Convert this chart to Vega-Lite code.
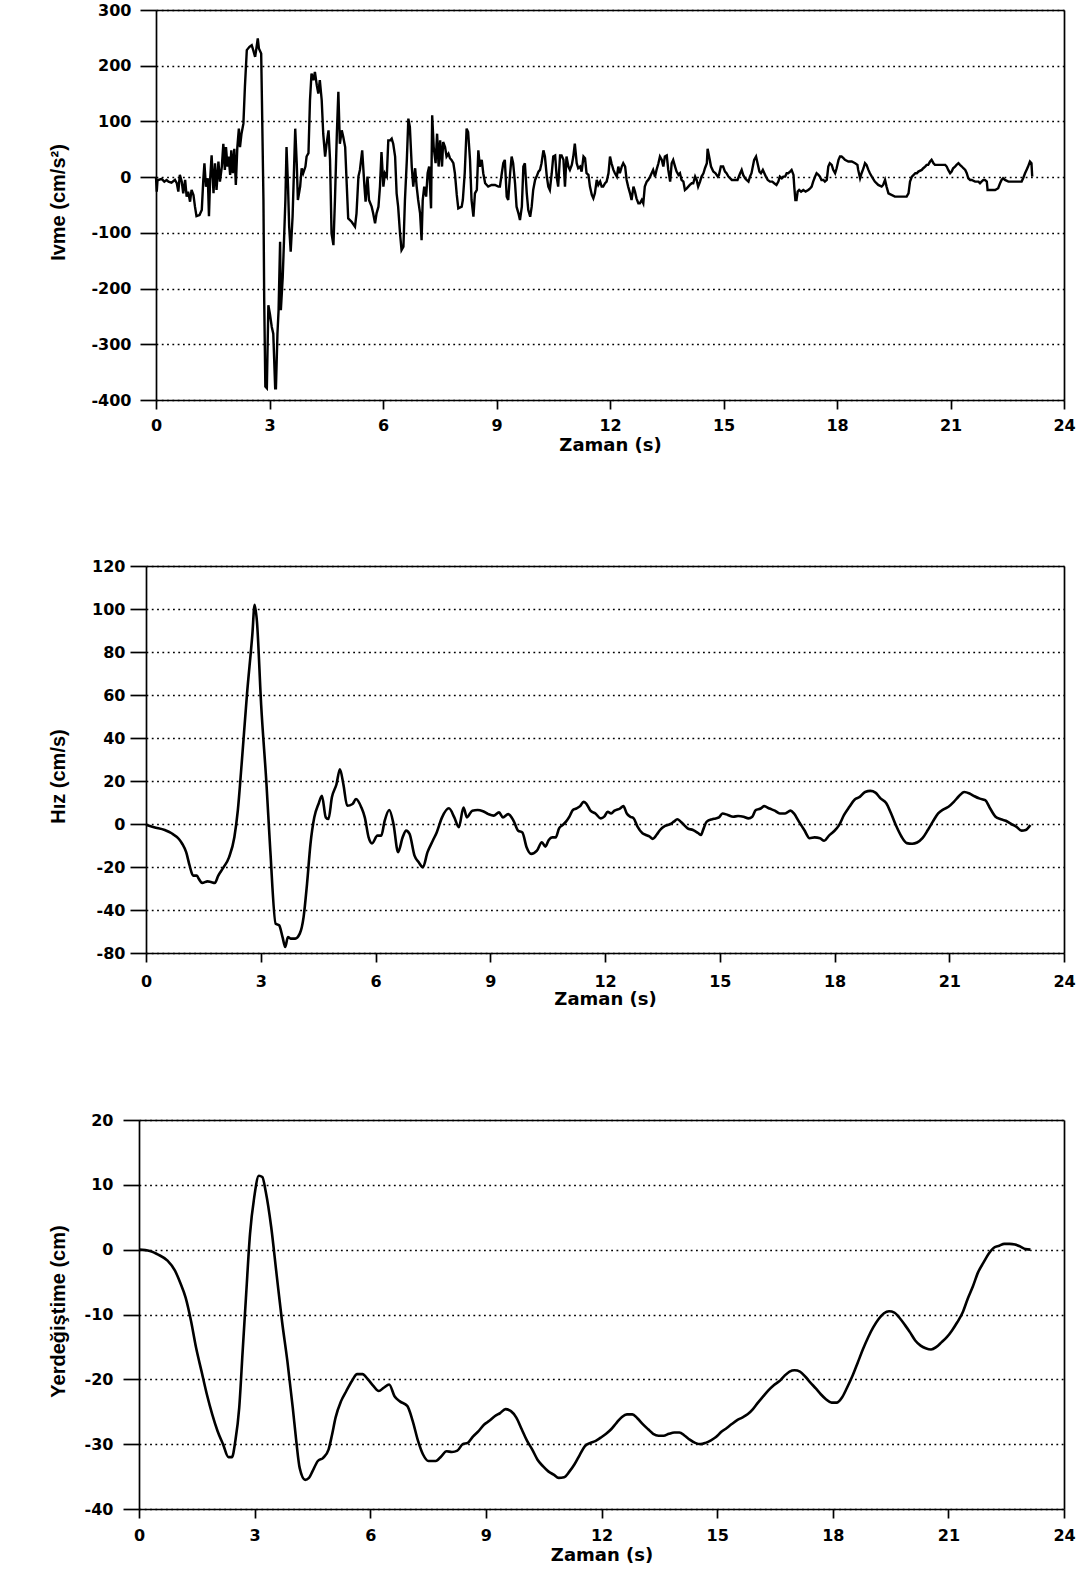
{
  "$schema": "https://vega.github.io/schema/vega-lite/v6.json",
  "background": "white",
  "padding": {"left": 48, "top": 2, "right": 5, "bottom": 5},
  "spacing": 104,
  "config": {
    "view": {"stroke": null},
    "axis": {"domainColor": "#000", "domainWidth": 1.7, "tickColor": "#000", "tickWidth": 1.7, "labelColor": "#000", "titleColor": "#000", "labelFont": "DejaVu Sans", "labelFontWeight": "bold", "labelFontSize": 16, "grid": false, "labelFlush": false, "labelOverlap": false}
  },
  "datasets": {
    "ivme": [
      {"t":0,"a":0},{"t":0.02,"a":-26},{"t":0.04,"a":-5},{"t":0.06,"a":-5},{"t":0.15,"a":-3},{"t":0.22,"a":-8},{"t":0.28,"a":-5},{"t":0.33,"a":-8},{"t":0.41,"a":-10},{"t":0.5,"a":-5},{"t":0.55,"a":-11},{"t":0.59,"a":-26},{"t":0.63,"a":4},{"t":0.68,"a":-8},{"t":0.72,"a":-29},{"t":0.77,"a":-5},{"t":0.81,"a":-35},{"t":0.85,"a":-26},{"t":0.9,"a":-44},{"t":0.94,"a":-23},{"t":0.99,"a":-32},{"t":1.03,"a":-53},{"t":1.07,"a":-70},{"t":1.15,"a":-68},{"t":1.21,"a":-59},{"t":1.25,"a":-5},{"t":1.28,"a":25},{"t":1.32,"a":-17},{"t":1.37,"a":-2},{"t":1.4,"a":-70},{"t":1.43,"a":-5},{"t":1.47,"a":39},{"t":1.52,"a":-29},{"t":1.56,"a":25},{"t":1.6,"a":-23},{"t":1.65,"a":28},{"t":1.69,"a":-8},{"t":1.74,"a":19},{"t":1.78,"a":60},{"t":1.82,"a":13},{"t":1.85,"a":54},{"t":1.89,"a":19},{"t":1.92,"a":37},{"t":1.96,"a":4},{"t":1.99,"a":48},{"t":2.03,"a":7},{"t":2.07,"a":51},{"t":2.11,"a":-14},{"t":2.15,"a":54},{"t":2.19,"a":87},{"t":2.22,"a":54},{"t":2.26,"a":78},{"t":2.31,"a":96},{"t":2.35,"a":162},{"t":2.4,"a":228},{"t":2.47,"a":234},{"t":2.53,"a":237},{"t":2.57,"a":228},{"t":2.62,"a":216},{"t":2.66,"a":234},{"t":2.69,"a":249},{"t":2.72,"a":231},{"t":2.78,"a":222},{"t":2.8,"a":138},{"t":2.84,"a":-41},{"t":2.86,"a":-221},{"t":2.89,"a":-376},{"t":2.93,"a":-379},{"t":2.97,"a":-230},{"t":3.01,"a":-245},{"t":3.06,"a":-269},{"t":3.1,"a":-281},{"t":3.15,"a":-379},{"t":3.17,"a":-379},{"t":3.21,"a":-281},{"t":3.24,"a":-239},{"t":3.28,"a":-116},{"t":3.3,"a":-239},{"t":3.35,"a":-179},{"t":3.39,"a":-101},{"t":3.42,"a":-41},{"t":3.45,"a":54},{"t":3.49,"a":-17},{"t":3.52,"a":-89},{"t":3.56,"a":-134},{"t":3.61,"a":-71},{"t":3.65,"a":19},{"t":3.68,"a":87},{"t":3.72,"a":25},{"t":3.75,"a":-41},{"t":3.81,"a":-17},{"t":3.85,"a":16},{"t":3.89,"a":7},{"t":3.95,"a":19},{"t":3.98,"a":37},{"t":4.03,"a":43},{"t":4.07,"a":138},{"t":4.11,"a":186},{"t":4.16,"a":174},{"t":4.2,"a":189},{"t":4.25,"a":165},{"t":4.29,"a":150},{"t":4.33,"a":174},{"t":4.38,"a":138},{"t":4.42,"a":78},
      {"t":4.47,"a":37},{"t":4.51,"a":60},{"t":4.56,"a":84},{"t":4.6,"a":31},{"t":4.64,"a":-101},{"t":4.69,"a":-122},{"t":4.73,"a":-41},{"t":4.78,"a":78},{"t":4.82,"a":153},{"t":4.86,"a":60},{"t":4.91,"a":84},{"t":4.95,"a":72},{"t":5.0,"a":54},{"t":5.04,"a":-11},{"t":5.08,"a":-74},{"t":5.17,"a":-80},{"t":5.26,"a":-89},{"t":5.3,"a":-65},{"t":5.35,"a":1},{"t":5.39,"a":13},{"t":5.45,"a":48},{"t":5.51,"a":-17},{"t":5.54,"a":-44},{"t":5.59,"a":1},{"t":5.63,"a":-41},{"t":5.7,"a":-53},{"t":5.74,"a":-65},{"t":5.79,"a":-83},{"t":5.83,"a":-65},{"t":5.88,"a":-53},{"t":5.92,"a":-17},{"t":5.96,"a":45},{"t":6.01,"a":-17},{"t":6.05,"a":7},{"t":6.1,"a":1},{"t":6.14,"a":66},{"t":6.19,"a":66},{"t":6.23,"a":69},{"t":6.27,"a":60},{"t":6.32,"a":37},{"t":6.36,"a":-29},{"t":6.4,"a":-53},{"t":6.45,"a":-101},{"t":6.49,"a":-131},{"t":6.54,"a":-125},{"t":6.58,"a":-41},{"t":6.63,"a":31},{"t":6.67,"a":105},{"t":6.71,"a":90},{"t":6.76,"a":19},{"t":6.8,"a":-17},{"t":6.85,"a":16},{"t":6.89,"a":-17},{"t":6.93,"a":-41},{"t":6.98,"a":-65},{"t":7.02,"a":-113},{"t":7.05,"a":-41},{"t":7.09,"a":-17},{"t":7.14,"a":-35},{"t":7.18,"a":7},{"t":7.22,"a":19},{"t":7.27,"a":-56},{"t":7.3,"a":111},{"t":7.34,"a":54},{"t":7.39,"a":25},{"t":7.43,"a":78},{"t":7.47,"a":19},{"t":7.51,"a":66},{"t":7.56,"a":19},{"t":7.59,"a":63},{"t":7.64,"a":54},{"t":7.68,"a":37},{"t":7.73,"a":42},{"t":7.77,"a":34},{"t":7.81,"a":31},{"t":7.86,"a":25},{"t":7.9,"a":7},{"t":7.95,"a":-32},{"t":7.99,"a":-56},{"t":8.08,"a":-53},{"t":8.11,"a":-41},{"t":8.16,"a":7},{"t":8.21,"a":87},{"t":8.25,"a":81},{"t":8.3,"a":31},{"t":8.34,"a":-41},{"t":8.39,"a":-71},{"t":8.43,"a":-29},{"t":8.48,"a":-23},{"t":8.52,"a":48},{"t":8.56,"a":19},{"t":8.61,"a":31},{"t":8.65,"a":7},{"t":8.7,"a":-11},{"t":8.78,"a":-17},{"t":8.87,"a":-14},{"t":8.96,"a":-14},{"t":9.05,"a":-17},
      {"t":9.09,"a":-17},{"t":9.14,"a":7},{"t":9.18,"a":25},{"t":9.22,"a":31},{"t":9.27,"a":-35},{"t":9.31,"a":-41},{"t":9.36,"a":7},{"t":9.4,"a":37},{"t":9.44,"a":25},{"t":9.49,"a":-11},{"t":9.53,"a":-53},{"t":9.58,"a":-65},{"t":9.62,"a":-77},{"t":9.67,"a":-53},{"t":9.71,"a":19},{"t":9.75,"a":25},{"t":9.8,"a":-29},{"t":9.84,"a":-59},{"t":9.89,"a":-71},{"t":9.93,"a":-53},{"t":9.97,"a":-23},{"t":10.02,"a":-5},{"t":10.06,"a":1},{"t":10.11,"a":10},{"t":10.15,"a":13},{"t":10.19,"a":25},{"t":10.24,"a":48},{"t":10.28,"a":37},{"t":10.33,"a":1},{"t":10.37,"a":-17},{"t":10.41,"a":-23},{"t":10.46,"a":7},{"t":10.5,"a":37},{"t":10.55,"a":39},{"t":10.59,"a":1},{"t":10.63,"a":-17},{"t":10.68,"a":39},{"t":10.72,"a":39},{"t":10.77,"a":31},{"t":10.81,"a":-17},{"t":10.85,"a":37},{"t":10.9,"a":19},{"t":10.94,"a":13},{"t":10.99,"a":22},{"t":11.03,"a":37},{"t":11.07,"a":60},{"t":11.12,"a":25},{"t":11.16,"a":16},{"t":11.21,"a":19},{"t":11.25,"a":10},{"t":11.3,"a":37},{"t":11.34,"a":34},{"t":11.38,"a":7},{"t":11.43,"a":4},{"t":11.47,"a":-17},{"t":11.52,"a":-32},{"t":11.56,"a":-38},{"t":11.6,"a":-29},{"t":11.65,"a":-5},{"t":11.69,"a":-14},{"t":11.74,"a":-8},{"t":11.78,"a":-17},{"t":11.82,"a":-17},{"t":11.87,"a":-11},{"t":11.91,"a":-8},{"t":11.96,"a":7},{"t":12.0,"a":37},{"t":12.04,"a":25},{"t":12.09,"a":13},{"t":12.13,"a":7},{"t":12.18,"a":1},{"t":12.22,"a":19},{"t":12.26,"a":7},{"t":12.31,"a":19},{"t":12.35,"a":25},{"t":12.4,"a":19},{"t":12.44,"a":-5},{"t":12.48,"a":-17},{"t":12.53,"a":-29},{"t":12.57,"a":-41},{"t":12.62,"a":-17},{"t":12.66,"a":-26},{"t":12.7,"a":-38},{"t":12.75,"a":-47},{"t":12.79,"a":-47},{"t":12.84,"a":-41},{"t":12.88,"a":-47},{"t":12.92,"a":-17},{"t":12.97,"a":-8},{"t":13.01,"a":-5},{"t":13.06,"a":1},{"t":13.1,"a":7},{"t":13.14,"a":13},{"t":13.19,"a":1},{"t":13.23,"a":13},{"t":13.28,"a":25},{"t":13.32,"a":37},{"t":13.37,"a":31},{"t":13.41,"a":19},{"t":13.45,"a":37},{"t":13.5,"a":39},{"t":13.54,"a":13},{"t":13.59,"a":-8},{"t":13.63,"a":25},{"t":13.67,"a":31},{"t":13.72,"a":19},{"t":13.76,"a":10},{"t":13.81,"a":4},{"t":13.85,"a":7},{"t":13.89,"a":-5},{"t":13.94,"a":-8},{"t":13.98,"a":-23},{"t":14.03,"a":-20},{"t":14.07,"a":-17},{"t":14.11,"a":-14},{"t":14.16,"a":-11},{"t":14.2,"a":-11},
      {"t":14.25,"a":1},{"t":14.29,"a":-5},{"t":14.33,"a":-17},{"t":14.38,"a":-8},{"t":14.42,"a":1},{"t":14.47,"a":7},{"t":14.51,"a":16},{"t":14.56,"a":25},{"t":14.58,"a":51},{"t":14.62,"a":37},{"t":14.67,"a":19},{"t":14.73,"a":10},{"t":14.79,"a":7},{"t":14.85,"a":1},{"t":14.88,"a":4},{"t":14.93,"a":19},{"t":14.99,"a":19},{"t":15.04,"a":10},{"t":15.08,"a":7},{"t":15.13,"a":1},{"t":15.22,"a":-5},{"t":15.3,"a":-5},{"t":15.37,"a":-5},{"t":15.44,"a":7},{"t":15.48,"a":13},{"t":15.52,"a":4},{"t":15.57,"a":-2},{"t":15.61,"a":-5},{"t":15.66,"a":-8},{"t":15.7,"a":1},{"t":15.74,"a":7},{"t":15.81,"a":31},{"t":15.86,"a":37},{"t":15.9,"a":25},{"t":15.95,"a":10},{"t":15.99,"a":7},{"t":16.04,"a":13},{"t":16.08,"a":7},{"t":16.12,"a":1},{"t":16.17,"a":-5},{"t":16.23,"a":-8},{"t":16.29,"a":-8},{"t":16.34,"a":-11},{"t":16.4,"a":-14},{"t":16.45,"a":-8},{"t":16.49,"a":1},{"t":16.54,"a":-2},{"t":16.58,"a":1},{"t":16.63,"a":1},{"t":16.67,"a":7},{"t":16.71,"a":7},{"t":16.76,"a":10},{"t":16.8,"a":13},{"t":16.85,"a":4},{"t":16.87,"a":-17},{"t":16.9,"a":-41},{"t":16.93,"a":-41},{"t":16.96,"a":-26},{"t":17.0,"a":-23},{"t":17.05,"a":-26},{"t":17.11,"a":-23},{"t":17.17,"a":-26},{"t":17.24,"a":-23},{"t":17.29,"a":-20},{"t":17.33,"a":-17},{"t":17.37,"a":-8},{"t":17.42,"a":1},{"t":17.46,"a":7},{"t":17.51,"a":4},{"t":17.55,"a":1},{"t":17.59,"a":-5},{"t":17.64,"a":-5},{"t":17.68,"a":-8},{"t":17.73,"a":-5},{"t":17.77,"a":19},{"t":17.81,"a":25},{"t":17.86,"a":22},{"t":17.9,"a":13},{"t":17.95,"a":7},{"t":17.99,"a":16},{"t":18.04,"a":31},{"t":18.08,"a":37},{"t":18.12,"a":37},{"t":18.17,"a":34},{"t":18.21,"a":31},{"t":18.3,"a":28},{"t":18.39,"a":28},{"t":18.48,"a":25},{"t":18.54,"a":22},{"t":18.56,"a":13},{"t":18.61,"a":-2},{"t":18.65,"a":7},{"t":18.7,"a":16},{"t":18.74,"a":25},{"t":18.78,"a":22},{"t":18.83,"a":13},{"t":18.87,"a":7},{"t":18.92,"a":1},{"t":19.0,"a":-8},{"t":19.09,"a":-14},{"t":19.18,"a":-17},{"t":19.22,"a":-14},{"t":19.27,"a":-5},{"t":19.31,"a":-17},{"t":19.36,"a":-29},{"t":19.53,"a":-35},{"t":19.71,"a":-35},{"t":19.84,"a":-35},{"t":19.89,"a":-29},{"t":19.93,"a":-8},{"t":19.98,"a":1},{"t":20.07,"a":7},{"t":20.11,"a":7},{"t":20.15,"a":10},{"t":20.24,"a":13},{"t":20.28,"a":16},{"t":20.33,"a":19},{"t":20.37,"a":22},{"t":20.41,"a":22},{"t":20.46,"a":28},{"t":20.5,"a":31},{"t":20.55,"a":25},{"t":20.59,"a":22},{"t":20.72,"a":22},{"t":20.86,"a":22},{"t":20.9,"a":19},{"t":20.94,"a":13},{"t":20.99,"a":7},{"t":21.03,"a":10},{"t":21.07,"a":16},{"t":21.12,"a":19},{"t":21.16,"a":22},{"t":21.21,"a":25},{"t":21.25,"a":22},{"t":21.3,"a":19},{"t":21.34,"a":16},{"t":21.39,"a":13},{"t":21.43,"a":7},{"t":21.47,"a":-2},{"t":21.52,"a":-5},{"t":21.56,"a":-5},{"t":21.65,"a":-8},{"t":21.74,"a":-8},{"t":21.78,"a":-11},{"t":21.82,"a":-8},{"t":21.87,"a":-5},{"t":21.91,"a":-5},{"t":21.96,"a":-8},{"t":21.98,"a":-23},{"t":22.04,"a":-23},{"t":22.18,"a":-23},{"t":22.26,"a":-20},{"t":22.31,"a":-11},{"t":22.35,"a":-5},{"t":22.39,"a":-2},{"t":22.44,"a":-5},{"t":22.53,"a":-8},{"t":22.61,"a":-8},{"t":22.7,"a":-8},{"t":22.83,"a":-8},{"t":22.88,"a":-8},{"t":22.92,"a":-2},{"t":22.97,"a":7},{"t":23.01,"a":13},{"t":23.05,"a":19},{"t":23.1,"a":28},{"t":23.14,"a":25},{"t":23.16,"a":1}
    ],
    "hiz": [
      {"t":0,"v":-0.3},{"t":0.21,"v":-1.5},{"t":0.49,"v":-2.8},{"t":0.67,"v":-4.3},{"t":0.86,"v":-7.0},{"t":0.95,"v":-9.3},{"t":1.05,"v":-13.1},{"t":1.14,"v":-19.3},{"t":1.23,"v":-24.0},{"t":1.33,"v":-24.0},{"t":1.38,"v":-25.5},{"t":1.47,"v":-27.4},{"t":1.61,"v":-26.7},{"t":1.7,"v":-27.0},{"t":1.8,"v":-27.4},{"t":1.89,"v":-24.0},{"t":2.03,"v":-20.1},{"t":2.17,"v":-15.5},{"t":2.31,"v":-6.2},{"t":2.4,"v":6.2},{"t":2.5,"v":27.8},{"t":2.64,"v":60.3},{"t":2.78,"v":88.1},{"t":2.84,"v":102.0},{"t":2.9,"v":94.3},{"t":3.01,"v":55.6},{"t":3.15,"v":18.5},{"t":3.25,"v":-12.4},{"t":3.39,"v":-46.4},{"t":3.48,"v":-47.1},{"t":3.57,"v":-52.6},{"t":3.64,"v":-57.2},{"t":3.71,"v":-52.6},{"t":3.78,"v":-53.3},{"t":3.9,"v":-53.3},{"t":4.02,"v":-51.0},{"t":4.12,"v":-43.3},{"t":4.21,"v":-27.8},{"t":4.3,"v":-9.3},{"t":4.4,"v":3.1},{"t":4.51,"v":9.3},{"t":4.6,"v":13.1},{"t":4.7,"v":3.1},{"t":4.77,"v":2.3},{"t":4.86,"v":12.4},{"t":4.98,"v":18.5},{"t":5.07,"v":25.5},{"t":5.16,"v":18.5},{"t":5.26,"v":8.5},{"t":5.4,"v":9.3},{"t":5.49,"v":11.6},{"t":5.63,"v":7.7},{"t":5.72,"v":3.1},{"t":5.82,"v":-6.2},{"t":5.91,"v":-9.0},{"t":6.05,"v":-5.4},{"t":6.15,"v":-5.4},{"t":6.24,"v":1.5},{"t":6.36,"v":6.5},{"t":6.47,"v":0},{"t":6.59,"v":-13.1},{"t":6.71,"v":-6.2},{"t":6.8,"v":-3.1},{"t":6.89,"v":-4.6},{"t":7.02,"v":-14.7},{"t":7.13,"v":-17.8},{"t":7.24,"v":-20.1},{"t":7.36,"v":-13.1},{"t":7.5,"v":-7.7},{"t":7.6,"v":-3.9},{"t":7.74,"v":3.1},{"t":7.92,"v":7.3},{"t":8.06,"v":3.1},{"t":8.18,"v":-1.5},{"t":8.3,"v":7.7},{"t":8.39,"v":3.1},{"t":8.53,"v":6.2},{"t":8.67,"v":6.5},{"t":8.81,"v":5.9},{"t":8.95,"v":4.6},{"t":9.09,"v":3.9},{"t":9.23,"v":5.4},{"t":9.33,"v":3.1},{"t":9.47,"v":4.6},{"t":9.61,"v":1.5},{"t":9.73,"v":-3.1},{"t":9.84,"v":-3.9},{"t":9.95,"v":-10.8},{"t":10.07,"v":-13.9},{"t":10.22,"v":-12.4},{"t":10.35,"v":-8.5},{"t":10.44,"v":-10.5},{"t":10.53,"v":-7.4},{"t":10.62,"v":-6.2},{"t":10.71,"v":-6.2},{"t":10.8,"v":-2.0},{"t":10.89,"v":-0.5},{"t":10.98,"v":1.1},{"t":11.07,"v":3.4},{"t":11.16,"v":6.5},{"t":11.25,"v":7.2},{"t":11.35,"v":8.3},{"t":11.44,"v":10.3},{"t":11.51,"v":9.5},{"t":11.62,"v":6.2},{"t":11.75,"v":4.9},{"t":11.89,"v":2.6},{"t":11.98,"v":3.4},{"t":12.07,"v":5.7},{"t":12.16,"v":4.9},{"t":12.25,"v":6.2},{"t":12.39,"v":7.2},{"t":12.48,"v":8.3},{"t":12.57,"v":4.9},{"t":12.66,"v":3.4},{"t":12.75,"v":2.6},{"t":12.85,"v":-1.2},{"t":12.98,"v":-4.3},{"t":13.07,"v":-5.1},{"t":13.16,"v":-5.8},{"t":13.25,"v":-6.9},{"t":13.35,"v":-5.0},{"t":13.44,"v":-2.8},{"t":13.57,"v":-0.9},{"t":13.71,"v":0},{"t":13.8,"v":1.1},{"t":13.89,"v":2.2},{"t":13.98,"v":1.1},{"t":14.07,"v":-0.5},{"t":14.16,"v":-2.0},{"t":14.3,"v":-2.8},{"t":14.44,"v":-4.3},{"t":14.51,"v":-5.1},{"t":14.57,"v":-2.5},{"t":14.66,"v":1.1},{"t":14.8,"v":2.2},{"t":14.89,"v":2.6},{"t":14.98,"v":3.1},{"t":15.07,"v":4.9},{"t":15.21,"v":4.2},{"t":15.35,"v":3.4},{"t":15.48,"v":3.7},{"t":15.62,"v":3.4},{"t":15.75,"v":2.6},{"t":15.85,"v":3.4},{"t":15.94,"v":6.5},{"t":16.07,"v":7.2},{"t":16.16,"v":8.3},{"t":16.3,"v":7.2},{"t":16.44,"v":6.2},{"t":16.57,"v":4.9},{"t":16.71,"v":4.9},{"t":16.85,"v":6.2},{"t":16.94,"v":4.9},{"t":17.07,"v":1.1},{"t":17.21,"v":-2.8},{"t":17.35,"v":-6.6},{"t":17.48,"v":-6.2},{"t":17.62,"v":-6.6},{"t":17.73,"v":-7.8},{"t":17.85,"v":-5.5},{"t":17.98,"v":-3.5},{"t":18.12,"v":-0.5},{"t":18.25,"v":4.2},{"t":18.39,"v":8.0},{"t":18.53,"v":11.4},{"t":18.66,"v":12.6},{"t":18.8,"v":14.9},{"t":18.94,"v":15.4},{"t":19.07,"v":14.6},{"t":19.21,"v":11.8},{"t":19.35,"v":9.8},{"t":19.48,"v":4.9},{"t":19.62,"v":-1.2},{"t":19.75,"v":-5.8},{"t":19.89,"v":-8.9},{"t":20.03,"v":-9.2},{"t":20.16,"v":-8.6},{"t":20.3,"v":-6.6},{"t":20.44,"v":-2.8},{"t":20.57,"v":1.1},{"t":20.71,"v":4.9},{"t":20.85,"v":6.8},{"t":20.98,"v":8.0},{"t":21.12,"v":10.3},{"t":21.25,"v":12.9},{"t":21.39,"v":14.9},{"t":21.53,"v":14.2},{"t":21.66,"v":12.9},{"t":21.8,"v":11.8},{"t":21.94,"v":11.1},{"t":22.07,"v":7.2},{"t":22.21,"v":3.4},{"t":22.35,"v":2.2},{"t":22.48,"v":1.5},{"t":22.62,"v":0},{"t":22.75,"v":-1.2},{"t":22.89,"v":-3.1},{"t":23.0,"v":-2.8},{"t":23.12,"v":-0.5}
    ],
    "yer": [
      {"t":0,"d":0},{"t":0.28,"d":-0.2},{"t":0.51,"d":-0.8},{"t":0.74,"d":-1.7},{"t":0.93,"d":-3.2},{"t":1.07,"d":-5.1},{"t":1.21,"d":-7.4},{"t":1.35,"d":-11.0},{"t":1.48,"d":-15.1},{"t":1.62,"d":-18.7},{"t":1.76,"d":-22.3},{"t":1.9,"d":-25.4},{"t":2.04,"d":-28.0},{"t":2.18,"d":-30.0},{"t":2.32,"d":-32.0},{"t":2.41,"d":-32.0},{"t":2.5,"d":-29.5},{"t":2.6,"d":-24.4},{"t":2.69,"d":-15.6},{"t":2.78,"d":-6.9},{"t":2.88,"d":2.4},{"t":2.99,"d":8.1},{"t":3.11,"d":11.4},{"t":3.2,"d":11.2},{"t":3.29,"d":8.9},{"t":3.43,"d":3.5},{"t":3.57,"d":-3.8},{"t":3.71,"d":-11.0},{"t":3.85,"d":-17.2},{"t":3.99,"d":-24.4},{"t":4.08,"d":-29.5},{"t":4.17,"d":-33.7},{"t":4.31,"d":-35.5},{"t":4.41,"d":-35.2},{"t":4.5,"d":-34.2},{"t":4.64,"d":-32.6},{"t":4.78,"d":-32.1},{"t":4.92,"d":-30.8},{"t":5.01,"d":-28.5},{"t":5.1,"d":-25.9},{"t":5.24,"d":-23.4},{"t":5.38,"d":-21.8},{"t":5.52,"d":-20.3},{"t":5.66,"d":-19.2},{"t":5.8,"d":-19.2},{"t":5.94,"d":-20.0},{"t":6.08,"d":-21.0},{"t":6.22,"d":-21.8},{"t":6.35,"d":-21.3},{"t":6.49,"d":-20.8},{"t":6.63,"d":-22.6},{"t":6.77,"d":-23.4},{"t":6.96,"d":-24.1},{"t":7.1,"d":-26.4},{"t":7.24,"d":-29.5},{"t":7.37,"d":-31.6},{"t":7.51,"d":-32.6},{"t":7.7,"d":-32.6},{"t":7.84,"d":-31.9},{"t":7.98,"d":-31.1},{"t":8.12,"d":-31.2},{"t":8.26,"d":-31.0},{"t":8.4,"d":-30.0},{"t":8.53,"d":-29.8},{"t":8.67,"d":-28.8},{"t":8.81,"d":-28.0},{"t":8.95,"d":-27.0},{"t":9.09,"d":-26.4},{"t":9.23,"d":-25.7},{"t":9.37,"d":-25.2},{"t":9.51,"d":-24.6},{"t":9.65,"d":-24.9},{"t":9.79,"d":-25.9},{"t":9.93,"d":-27.7},{"t":10.07,"d":-29.5},{"t":10.2,"d":-30.8},{"t":10.34,"d":-32.4},{"t":10.48,"d":-33.4},{"t":10.62,"d":-34.2},{"t":10.76,"d":-34.7},{"t":10.89,"d":-35.2},{"t":11.03,"d":-35.1},{"t":11.17,"d":-34.2},{"t":11.3,"d":-33.1},{"t":11.44,"d":-31.6},{"t":11.57,"d":-30.3},{"t":11.71,"d":-29.8},{"t":11.85,"d":-29.5},{"t":11.98,"d":-29.0},{"t":12.12,"d":-28.4},{"t":12.25,"d":-27.7},{"t":12.39,"d":-26.7},{"t":12.53,"d":-25.8},{"t":12.66,"d":-25.4},{"t":12.8,"d":-25.4},{"t":12.93,"d":-26.0},{"t":13.07,"d":-26.9},{"t":13.21,"d":-27.7},{"t":13.34,"d":-28.4},{"t":13.48,"d":-28.7},{"t":13.61,"d":-28.7},{"t":13.75,"d":-28.4},{"t":13.89,"d":-28.2},{"t":14.02,"d":-28.2},{"t":14.16,"d":-28.7},{"t":14.29,"d":-29.3},{"t":14.43,"d":-29.8},{"t":14.57,"d":-30.0},{"t":14.7,"d":-29.8},{"t":14.84,"d":-29.4},{"t":14.97,"d":-28.9},{"t":15.11,"d":-28.1},{"t":15.25,"d":-27.5},{"t":15.38,"d":-26.9},{"t":15.52,"d":-26.3},{"t":15.65,"d":-25.9},{"t":15.79,"d":-25.4},{"t":15.93,"d":-24.6},{"t":16.06,"d":-23.6},{"t":16.2,"d":-22.6},{"t":16.33,"d":-21.7},{"t":16.47,"d":-20.9},{"t":16.61,"d":-20.3},{"t":16.74,"d":-19.5},{"t":16.88,"d":-18.8},{"t":17.01,"d":-18.6},{"t":17.15,"d":-18.8},{"t":17.29,"d":-19.6},{"t":17.42,"d":-20.5},{"t":17.56,"d":-21.4},{"t":17.69,"d":-22.3},{"t":17.83,"d":-23.1},{"t":17.97,"d":-23.6},{"t":18.1,"d":-23.6},{"t":18.24,"d":-22.8},{"t":18.37,"d":-21.3},{"t":18.51,"d":-19.5},{"t":18.65,"d":-17.4},{"t":18.78,"d":-15.4},{"t":18.92,"d":-13.5},{"t":19.05,"d":-12.0},{"t":19.19,"d":-10.7},{"t":19.33,"d":-9.8},{"t":19.46,"d":-9.5},{"t":19.6,"d":-9.7},{"t":19.73,"d":-10.5},{"t":19.87,"d":-11.6},{"t":20.01,"d":-12.8},{"t":20.14,"d":-14.0},{"t":20.28,"d":-14.8},{"t":20.41,"d":-15.2},{"t":20.55,"d":-15.4},{"t":20.69,"d":-15.0},{"t":20.82,"d":-14.3},{"t":20.96,"d":-13.5},{"t":21.09,"d":-12.5},{"t":21.23,"d":-11.2},{"t":21.37,"d":-9.7},{"t":21.5,"d":-7.6},{"t":21.64,"d":-5.6},{"t":21.77,"d":-3.5},{"t":21.91,"d":-2.0},{"t":22.05,"d":-0.6},{"t":22.18,"d":0.3},{"t":22.32,"d":0.6},{"t":22.45,"d":0.9},{"t":22.59,"d":0.9},{"t":22.73,"d":0.8},{"t":22.86,"d":0.5},{"t":23.0,"d":0.1},{"t":23.13,"d":0.0}
    ]
  },
  "vconcat": [
    {
      "width": 925, "height": 390,
      "data": {"name": "ivme"},
      "layer": [
        {
          "mark": {"type": "line", "color": "#000", "strokeWidth": 2.4},
          "encoding": {
            "x": {"field": "t", "type": "quantitative",
              "scale": {"domain": [0, 24], "range": [17, 925], "nice": false, "zero": false},
              "axis": {"orient": "bottom", "values": [0,3,6,9,12,15,18,21,24], "tickSize": 9, "labelPadding": 8, "title": "Zaman (s)", "titleFont": "DejaVu Sans", "titleFontWeight": "bold", "titleFontSize": 18, "titleY": 50, "titleBaseline": "alphabetic"}},
            "y": {"field": "a", "type": "quantitative",
              "scale": {"domain": [-400, 300], "nice": false, "zero": false},
              "axis": {"orient": "left", "offset": -17, "values": [-400,-300,-200,-100,0,100,200,300], "tickSize": 16, "labelPadding": 9, "labelExpr": "'' + datum.value", "grid": true, "gridColor": "#000", "gridDash": [1.8, 3.5], "gridWidth": 1.6, "title": "Ivme (cm/s²)", "titleFont": "Liberation Sans Narrow, Liberation Sans, sans-serif", "titleFontWeight": "bold", "titleFontSize": 20, "titleAngle": 270, "titleBaseline": "alphabetic", "titleAlign": "center", "titleX": -92, "titleY": 192}}
          }
        },
        {
          "mark": {"type": "line", "opacity": 0},
          "encoding": {
            "x": {"field": "t", "type": "quantitative", "scale": {"domain": [0, 24], "range": [17, 925], "nice": false, "zero": false},
              "axis": {"orient": "top", "ticks": false, "labels": false, "title": null, "grid": false}},
            "y": {"field": "a", "type": "quantitative", "scale": {"domain": [-400, 300], "nice": false, "zero": false},
              "axis": {"orient": "right", "ticks": false, "labels": false, "title": null, "grid": false}}
          }
        }
      ],
      "resolve": {"axis": {"x": "independent", "y": "independent"}}
    },
    {
      "width": 925, "height": 387,
      "data": {"name": "hiz"},
      "layer": [
        {
          "mark": {"type": "line", "color": "#000", "strokeWidth": 2.6, "interpolate": "monotone"},
          "encoding": {
            "x": {"field": "t", "type": "quantitative",
              "scale": {"domain": [0, 24], "range": [7, 925], "nice": false, "zero": false},
              "axis": {"orient": "bottom", "values": [0,3,6,9,12,15,18,21,24], "tickSize": 9, "labelPadding": 11, "title": "Zaman (s)", "titleFont": "DejaVu Sans", "titleFontWeight": "bold", "titleFontSize": 18, "titleY": 51, "titleBaseline": "alphabetic"}},
            "y": {"field": "v", "type": "quantitative",
              "scale": {"domain": [-60, 120], "nice": false, "zero": false},
              "axis": {"orient": "left", "offset": -7, "values": [-60,-40,-20,0,20,40,60,80,100,120], "tickSize": 16, "labelPadding": 5, "labelExpr": "datum.value == -60 ? '-80' : '' + datum.value", "grid": true, "gridColor": "#000", "gridDash": [1.8, 3.5], "gridWidth": 1.6, "title": "Hız (cm/s)", "titleFont": "Liberation Sans Narrow, Liberation Sans, sans-serif", "titleFontWeight": "bold", "titleFontSize": 20, "titleAngle": 270, "titleBaseline": "alphabetic", "titleAlign": "center", "titleX": -82, "titleY": 210}}
          }
        },
        {
          "mark": {"type": "line", "opacity": 0},
          "encoding": {
            "x": {"field": "t", "type": "quantitative", "scale": {"domain": [0, 24], "range": [7, 925], "nice": false, "zero": false},
              "axis": {"orient": "top", "ticks": false, "labels": false, "title": null, "grid": false}},
            "y": {"field": "v", "type": "quantitative", "scale": {"domain": [-60, 120], "nice": false, "zero": false},
              "axis": {"orient": "right", "ticks": false, "labels": false, "title": null, "grid": false}}
          }
        }
      ],
      "resolve": {"axis": {"x": "independent", "y": "independent"}}
    },
    {
      "width": 925, "height": 389,
      "data": {"name": "yer"},
      "layer": [
        {
          "mark": {"type": "line", "color": "#000", "strokeWidth": 2.6, "interpolate": "monotone"},
          "encoding": {
            "x": {"field": "t", "type": "quantitative",
              "scale": {"domain": [0, 24], "range": [0, 925], "nice": false, "zero": false},
              "axis": {"orient": "bottom", "values": [0,3,6,9,12,15,18,21,24], "tickSize": 9, "labelPadding": 9, "title": "Zaman (s)", "titleFont": "DejaVu Sans", "titleFontWeight": "bold", "titleFontSize": 18, "titleY": 51, "titleBaseline": "alphabetic"}},
            "y": {"field": "d", "type": "quantitative",
              "scale": {"domain": [-40, 20], "nice": false, "zero": false},
              "axis": {"orient": "left", "values": [-40,-30,-20,-10,0,10,20], "tickSize": 16, "labelPadding": 10, "labelExpr": "'' + datum.value", "grid": true, "gridColor": "#000", "gridDash": [1.8, 3.5], "gridWidth": 1.6, "title": "Yerdeğiştime (cm)", "titleFont": "Liberation Sans Narrow, Liberation Sans, sans-serif", "titleFontWeight": "bold", "titleFontSize": 20, "titleAngle": 270, "titleBaseline": "alphabetic", "titleAlign": "center", "titleX": -75, "titleY": 191}}
          }
        },
        {
          "mark": {"type": "line", "opacity": 0},
          "encoding": {
            "x": {"field": "t", "type": "quantitative", "scale": {"domain": [0, 24], "range": [0, 925], "nice": false, "zero": false},
              "axis": {"orient": "top", "ticks": false, "labels": false, "title": null, "grid": false}},
            "y": {"field": "d", "type": "quantitative", "scale": {"domain": [-40, 20], "nice": false, "zero": false},
              "axis": {"orient": "right", "ticks": false, "labels": false, "title": null, "grid": false}}
          }
        }
      ],
      "resolve": {"axis": {"x": "independent", "y": "independent"}}
    }
  ]
}
